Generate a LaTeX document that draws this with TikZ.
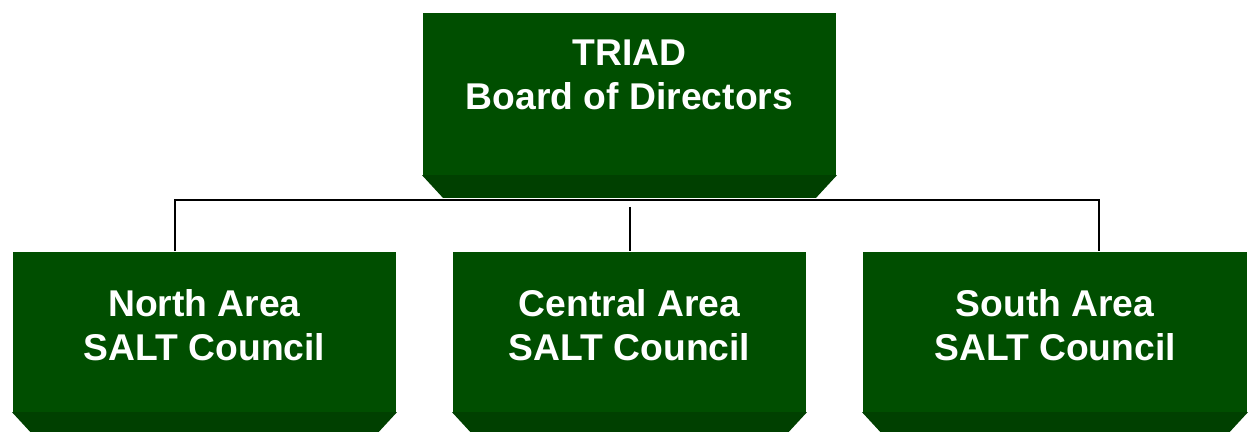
\documentclass[tikz,border=0pt]{standalone}
\usepackage{fontspec}
\setmainfont{Liberation Sans}
\definecolor{facegreen}{RGB}{0,78,0}
\definecolor{bevelgreen}{RGB}{0,64,0}

\begin{document}
\begin{tikzpicture}[line width=1.1pt,
    face/.style={fill=facegreen,inner sep=0pt},
    caption/.style={text=white,align=center,inner sep=0pt,
      font=\bfseries\fontsize{21.2}{25}\selectfont}]
  \useasboundingbox (0,0) rectangle (24.96,8.64);
  % boxes
  \node[face,minimum width=8.26cm,minimum height=3.24cm] (board) at (12.59,6.76) {};
  \node[face,minimum width=7.66cm,minimum height=3.2cm] (north) at (4.09,2) {};
  \node[face,minimum width=7.06cm,minimum height=3.2cm] (central) at (12.59,2) {};
  \node[face,minimum width=7.68cm,minimum height=3.2cm] (south) at (21.1,2) {};
  % bevels under the boxes
  \foreach \n in {board,north,central,south}
    \fill[bevelgreen] ([yshift=.015cm]\n.south west) -- ([yshift=.015cm]\n.south east)
      -- ([xshift=-.42cm,yshift=-.44cm]\n.south east)
      -- ([xshift=.42cm,yshift=-.44cm]\n.south west) -- cycle;
  \node[caption] (board-t) at ([yshift=.39cm]board.center) {TRIAD\\Board of Directors};
  \node[caption] (north-t) at ([yshift=.13cm]north.center) {North Area\\SALT Council};
  \node[caption] (central-t) at ([yshift=.13cm]central.center) {Central Area\\SALT Council};
  \node[caption] (south-t) at ([yshift=.13cm]south.center) {South Area\\SALT Council};
  % connectors
  \coordinate (busL) at (3.5,4.64); \coordinate (busR) at (21.98,4.64);
  \coordinate (busC) at (12.6,4.5);
  \draw (north.north -| busL) -- (busL) -- (busR) -- (south.north -| busR);
  \draw (busC) -- (central.north -| busC);
\end{tikzpicture}
\end{document}
